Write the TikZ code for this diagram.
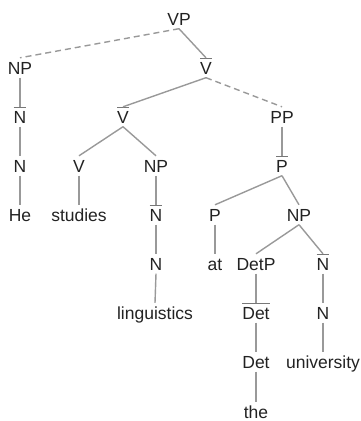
\documentclass[tikz,border=0pt]{standalone}
\usepackage{fontspec}
\setmainfont{Liberation Sans}
\definecolor{textc}{HTML}{222222}
\definecolor{linec}{HTML}{999999}
\definecolor{barc}{HTML}{777777}
\newlength\obarw
\newcommand\obar[1]{\settowidth\obarw{#1}\makebox[0pt][l]{\textcolor{barc}{\rule[15pt]{\obarw}{1.1pt}}}#1}
\begin{document}
\begin{tikzpicture}[x=1pt,y=-1pt,
  tn/.style={font=\fontsize{17.5pt}{20pt}\selectfont, text=textc, text height=12.5pt, text depth=0pt,
    inner xsep=1pt, inner ysep=3.5pt, anchor=base},
  edge/.style={draw=linec, line width=1.4pt},
  dedge/.style={edge, dash pattern=on 6pt off 4pt}]
\useasboundingbox (0,0) rectangle (360,421);
% levels: baseline = 25 + 49.1 k
\node[tn] (vp) at (179,25) {VP};
\node[tn] (np1) at (20,74) {NP};
\node[tn] (vb1) at (206,74) {\obar{V}};
\node[tn] (nb1) at (20,123) {\obar{N}};
\node[tn] (vb2) at (123,123) {\obar{V}};
\node[tn] (pp) at (282,123) {PP};
\node[tn] (n1) at (20,172) {N};
\node[tn] (v) at (79,172) {V};
\node[tn] (np2) at (156,172) {NP};
\node[tn] (pb) at (282,172) {\obar{P}};
\node[tn] (he) at (20,221) {He};
\node[tn] (studies) at (79,221) {studies};
\node[tn] (nb2) at (156,221) {\obar{N}};
\node[tn] (p) at (215,221) {P};
\node[tn] (np3) at (299,221) {NP};
\node[tn] (n2) at (156,270) {N};
\node[tn] (at) at (215,270) {at};
\node[tn] (detp) at (256,270) {DetP};
\node[tn] (nb3) at (323,270) {\obar{N}};
\node[tn] (ling) at (155,319) {linguistics};
\node[tn] (detb) at (256,319) {\obar{Det}};
\node[tn] (n3) at (323,319) {N};
\node[tn] (det) at (256,368) {Det};
\node[tn] (univ) at (323,368) {university};
\node[tn] (the) at (256,418) {the};
% edges
\draw[dedge] (vp.south) -- (np1.north);
\draw[edge] (vp.south) -- (vb1.north);
\draw[edge] (vb1.south) -- (vb2.north);
\draw[dedge] (vb1.south) -- (pp.north);
\draw[edge] (np1.south) -- (nb1.north);
\draw[edge] (nb1.south) -- (n1.north);
\draw[edge] (n1.south) -- (he.north);
\draw[edge] (vb2.south) -- (v.north);
\draw[edge] (vb2.south) -- (np2.north);
\draw[edge] (v.south) -- (studies.north);
\draw[edge] (np2.south) -- (nb2.north);
\draw[edge] (nb2.south) -- (n2.north);
\draw[edge] (n2.south) -- (ling.north);
\draw[edge] (pp.south) -- (pb.north);
\draw[edge] (pb.south) -- (p.north);
\draw[edge] (pb.south) -- (np3.north);
\draw[edge] (p.south) -- (at.north);
\draw[edge] (np3.south) -- (detp.north);
\draw[edge] (np3.south) -- (nb3.north);
\draw[edge] (detp.south) -- (detb.north);
\draw[edge] (detb.south) -- (det.north);
\draw[edge] (det.south) -- (the.north);
\draw[edge] (nb3.south) -- (n3.north);
\draw[edge] (n3.south) -- (univ.north);
\end{tikzpicture}
\end{document}
